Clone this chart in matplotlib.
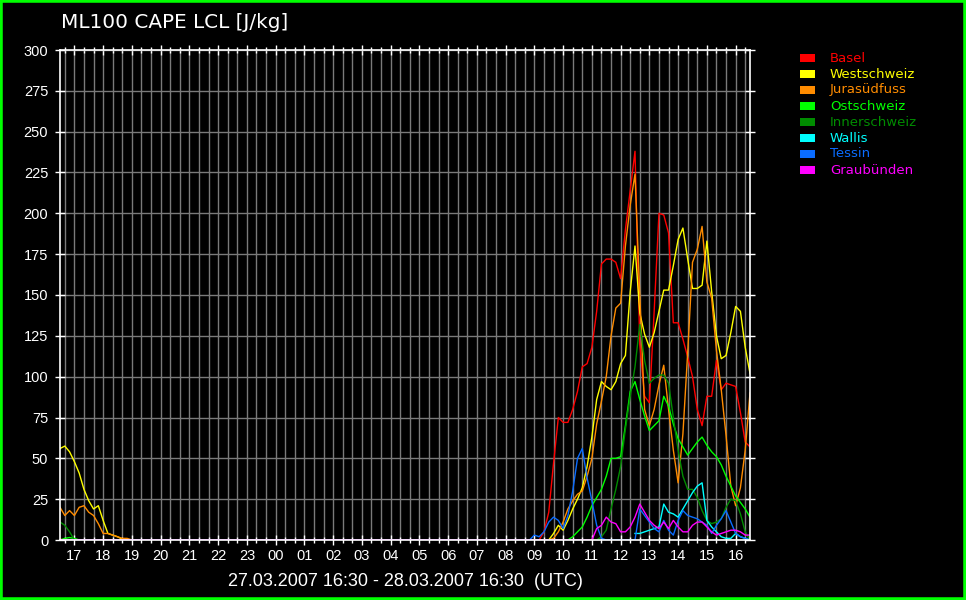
import numpy as np
import matplotlib
matplotlib.use("Agg")
import matplotlib.pyplot as plt
from matplotlib.patches import Rectangle
from matplotlib.ticker import MultipleLocator, FixedLocator

# ---------------- data (10-minute values) ----------------
names = ["Basel", "Westschweiz", "Jurasüdfuss", "Ostschweiz",
         "Innerschweiz", "Wallis", "Tessin", "Graubünden"]
colors = ["#ff0000", "#ffff00", "#ff8c00", "#00ff00",
          "#008c00", "#00ffff", "#0a6cff", "#ff00ff"]

# 16:30 .. 19:00 (27.03)
early_basel = [0.5, 0, 0, 0, 0, 0, 0, 0, 0, 0, 0, 0, 0, 0, 0, 0]
early_west = [56, 57.5, 54, 48, 41, 31, 24, 19, 21, 12, 4, 3, 2, 0.5, 0, 0]
early_jura = [20, 15, 18, 15, 20, 21, 17, 15, 10, 4, 4, 3, 2, 1, 1, 0]
early_ost = [0, 1, 1.5, 1, 0, 0, 0, 0, 0, 0, 0, 0, 0, 0, 0, 0]
early_inner = [11, 9, 5, 0, 0, 0, 0, 0, 0, 0, 0, 0, 0, 0, 0, 0]
early_wallis = [np.nan] * 16
early_tessin = [0] * 16
early_graub = [0] * 16

# 09:00 .. 16:30 (28.03)
late_basel = [0, 0, 5, 17, 47, 75, 72, 72, 80, 91, 106, 108, 118, 140, 169, 172,
              172, 170, 160, 190, 214, 238, 120, 88, 84, 140, 200, 199, 188, 133,
              133, 123, 112, 100, 80, 70, 88, 88, 110, 92, 96, 95, 94, 78, 60, 57]
late_west = [0, 0, 0, 0, 4, 9, 6, 12, 19, 25, 32, 45, 63, 86, 97, 94,
             92, 97, 108, 113, 152, 180, 139, 126, 118, 127, 140, 153, 153, 168,
             184, 191, 172, 154, 154, 156, 183, 152, 125, 111, 113, 127, 143, 140, 118, 102]
late_jura = [0, 0, 0, 0, 1, 5, 11, 19, 24, 28, 30, 39, 50, 71, 85, 100,
             125, 142, 145, 180, 205, 224, 150, 80, 70, 80, 95, 107, 80, 55,
             35, 65, 115, 170, 178, 192, 158, 148, 116, 92, 64, 33, 21, 32, 55, 90]
late_ost = [0, 0, 0, 0, 0, 0, 0, 0, 2, 5, 8, 14, 21, 26, 31, 39,
            50, 50, 51, 70, 91, 97, 86, 76, 67, 70, 73, 88, 82, 71,
            62, 57, 52, 56, 60, 63, 58, 54, 51, 46, 39, 33, 27, 23, 19, 14]
late_inner = [0, 0, 0, 0, 0, 0, 0, 0, 0, 0, 0, 0, 0, 0, 2, 6,
              19, 31, 45, 68, 88, 106, 132, 110, 96, 99, 101, 101, 96, 75,
              55, 39, 31, 31, 26, 18, 12, 10, 11, 13, 20, 25, 24, 16, 5, 0]
late_wallis = [np.nan] * 21 + [4, 4, 5, 6, 7, 8, 22, 17, 16, 14, 19, 24, 29, 33, 35,
                               12, 8, 5, 2, 1, 1, 4, 2, 1, 0]
late_tessin = [3, 2, 5, 11, 14, 12, 7, 15, 30, 50, 56, 38, 24, 9, 1, 0,
               0, 0, 0, 0, 0, 0, 19, 15, 11, 7, 5, 12, 6, 3,
               12, 18, 15, 14, 13, 11, 9, 4, 9, 13, 18, 11, 4, 2, 1, 0]
late_graub = [0, 0, 0, 0, 0, 0, 0, 0, 0, 0, 0, 0, 0, 7, 9, 14,
              11, 10, 5, 5, 8, 14, 22, 17, 12, 9, 7, 11, 7, 12,
              8, 5, 5, 9, 11, 11, 8, 5, 3, 4, 5, 6, 6, 5, 3, 3]

early = [early_basel, early_west, early_jura, early_ost, early_inner,
         early_wallis, early_tessin, early_graub]
late = [late_basel, late_west, late_jura, late_ost, late_inner,
        late_wallis, late_tessin, late_graub]

n_quiet = 83  # 19:10 .. 08:50, all zero
t = 16.5 + np.arange(16 + n_quiet + 46) / 6.0   # hours since 27.03 00:00

hour_labels = ["%02d" % (h % 24) for h in range(17, 41)]
y_ticks = list(range(0, 301, 25))

# ---------------- figure ----------------
W, H = 966, 600
fig = plt.figure(figsize=(W / 100, H / 100), dpi=100, facecolor="black")
ax = fig.add_axes([60 / W, 60 / H, 690 / W, 490 / H], facecolor="black")

for i, name in enumerate(names):
    quiet = [np.nan] * n_quiet if name == "Wallis" else [0] * n_quiet
    y = np.concatenate([np.asarray(early[i], float), np.asarray(quiet, float),
                        np.asarray(late[i], float)])
    ax.plot(t, y, color=colors[i], lw=1.0, zorder=3 + i * 0.01)

ax.set_xlim(16.5, 40.5)
ax.set_ylim(0, 300)

ax.xaxis.set_major_locator(FixedLocator(list(range(17, 41))))
ax.set_xticklabels(hour_labels)
ax.xaxis.set_minor_locator(MultipleLocator(1 / 3))
ax.yaxis.set_major_locator(FixedLocator(y_ticks))
ax.set_yticklabels([str(v) for v in y_ticks])

ax.grid(which="both", axis="x", color="#7a7a7a", lw=1.0, zorder=1)
ax.grid(which="major", axis="y", color="#7a7a7a", lw=1.0, zorder=1)
ax.set_axisbelow(True)

for s in ax.spines.values():
    s.set_color("white")
    s.set_linewidth(1.2)
    s.set_zorder(10)

tick_font = ["Liberation Sans Narrow", "Liberation Sans", "DejaVu Sans"]
ax.tick_params(axis="both", which="major", colors="white", direction="inout",
               length=7, width=1, labelsize=10.5)
ax.tick_params(axis="both", which="minor", colors="white", direction="inout",
               length=4, width=1)
ax.tick_params(axis="x", which="both", top=True, bottom=True, pad=3)
ax.tick_params(axis="y", which="major", left=True, right=True, pad=5)
for lab in ax.get_xticklabels() + ax.get_yticklabels():
    lab.set_family(tick_font)
    lab.set_color("white")

# title and time span
fig.text(61 / W, 1 - 22 / H, "ML100 CAPE LCL [J/kg]", color="white",
         fontsize=14.4, family="DejaVu Sans", ha="left", va="center")
fig.text(405 / W, 1 - 581 / H, "27.03.2007 16:30 - 28.03.2007 16:30  (UTC)",
         color="white", fontsize=13, family=tick_font, ha="center", va="center")

# legend
for k, (name, c) in enumerate(zip(names, colors)):
    yc = 58 + 16 * k
    fig.add_artist(Rectangle((800 / W, 1 - (yc + 4) / H), 15 / W, 8 / H,
                             transform=fig.transFigure, facecolor=c,
                             edgecolor="none"))
    fig.text(830 / W, 1 - yc / H, name, color=c, fontsize=9.5,
             family="DejaVu Sans", ha="left", va="center")

# green frame
fig.add_artist(Rectangle((0, 0), 1, 1, transform=fig.transFigure, fill=False,
                         edgecolor="#00ff00", linewidth=4))

fig.savefig("out.png", dpi=100, facecolor="black")
